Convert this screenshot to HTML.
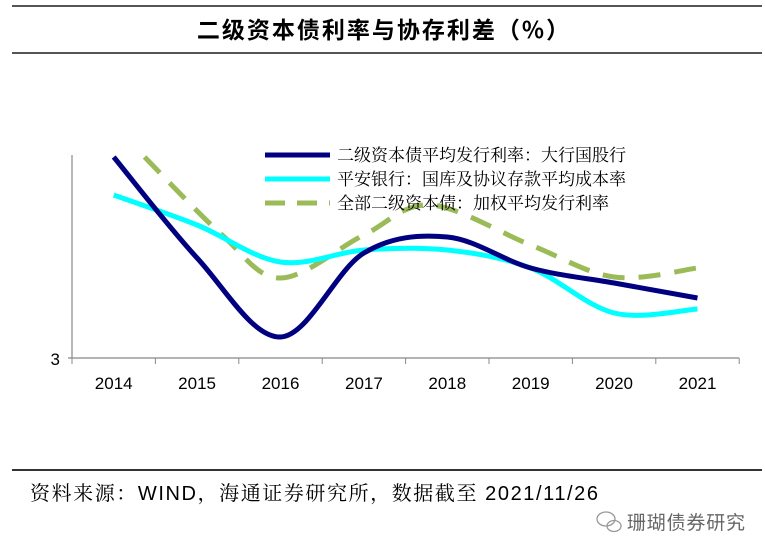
<!DOCTYPE html>
<html><head><meta charset="utf-8"><style>
body{margin:0;background:#fff;width:765px;height:554px;overflow:hidden;font-family:"Liberation Sans","Noto Serif CJK SC","Noto Sans CJK SC",serif;}
</style></head><body>
<svg width="765" height="554" viewBox="0 0 765 554" style="position:absolute;left:0;top:0">
<line x1="12" y1="6" x2="762" y2="6" stroke="#555" stroke-width="2"/>
<line x1="12" y1="53" x2="762" y2="53" stroke="#555" stroke-width="2"/>
<text x="384" y="38" text-anchor="middle" font-size="23" font-weight="bold" letter-spacing="2" font-family="'Noto Sans CJK SC',sans-serif">二级资本债利率与协存利差（%）</text>
<g id="plot"></g>
<line x1="12" y1="470" x2="762" y2="470" stroke="#333" stroke-width="2"/>
<text x="30" y="500" font-size="20" textLength="568" font-family="'Liberation Sans','Noto Serif CJK SC',serif">资料来源：WIND，海通证券研究所，数据截至 2021/11/26</text>
<g fill="none" stroke="#999" stroke-width="1.3">
<ellipse cx="606" cy="519" rx="9" ry="7"/><ellipse cx="614" cy="526" rx="7" ry="5.5"/>
</g>
<text x="627" y="529" font-size="19" fill="#666" textLength="118" font-family="'Noto Sans CJK SC',sans-serif">珊瑚债券研究</text>
</svg>
<script>
const categories=["2014","2015","2016","2017","2018","2019","2020","2021"];
const yTickLabels=["3"];
const majorBank=[7.02,5.0,3.42,5.1,5.42,4.8,4.5,4.2];
const pinganDeposit=[6.26,5.66,4.92,5.16,5.16,4.8,3.9,3.98];
const allTier2X=[0.37,1.3,2.0,3.0,3.8,5.0,6.0,7.0];
const allTier2=[7.02,5.46,4.6,5.46,6.06,5.26,4.62,4.8];
const legendLabels=["二级资本债平均发行利率：大行国股行","平安银行：国库及协议存款平均成本率","全部二级资本债：加权平均发行利率"];
const NS="http://www.w3.org/2000/svg";
const g=document.getElementById('plot');
const x0=72,step=83.4,base=358;
function xPos(i){return x0+step*(i+0.5);}
function yPos(v){return base-(v-3)*50;}
function mk(t,a){const e=document.createElementNS(NS,t);for(const k in a)e.setAttribute(k,a[k]);g.appendChild(e);return e;}
function path(pts){let d="M"+pts[0][0]+","+pts[0][1];for(let i=0;i<pts.length-1;i++){const p0=pts[i-1]||pts[i],p1=pts[i],p2=pts[i+1],p3=pts[i+2]||p2;const c1=[p1[0]+(p2[0]-p0[0])/6,p1[1]+(p2[1]-p0[1])/6],c2=[p2[0]-(p3[0]-p1[0])/6,p2[1]-(p3[1]-p1[1])/6];d+=" C"+c1+" "+c2+" "+p2;}return d;}
let ax=mk('line',{x1:x0,y1:155,x2:x0,y2:base,stroke:'#888','stroke-width':1.2});

let xa=mk('line',{x1:x0-4,y1:base,x2:x0+step*8,y2:base,stroke:'#888','stroke-width':1.2});

for(let i=0;i<=8;i++){let t=mk('line',{x1:x0+step*i,y1:base,x2:x0+step*i,y2:base+6,stroke:'#888'});}
categories.forEach((c,i)=>{let t=mk('text',{x:xPos(i),y:389,'text-anchor':'middle','font-size':17,'font-family':'Liberation Sans,sans-serif'});t.textContent=c;});
let yl=mk('text',{x:60,y:base+7,'text-anchor':'end','font-size':17,'font-family':'Liberation Sans,sans-serif'});yl.textContent=yTickLabels[0];

let s3=mk('path',{d:path(allTier2.map((v,i)=>[x0+step*(allTier2X[i]+0.5),yPos(v)])),fill:'none',stroke:'#9bbb59','stroke-width':5,'stroke-dasharray':'22,14'});

let s2=mk('path',{d:path(pinganDeposit.map((v,i)=>[xPos(i),yPos(v)])),fill:'none',stroke:'#00ffff','stroke-width':5});

let s1=mk('path',{d:path(majorBank.map((v,i)=>[xPos(i),yPos(v)])),fill:'none',stroke:'#000080','stroke-width':5});

const lc=['#000080','#00ffff','#9bbb59'];
legendLabels.forEach((l,i)=>{const y=155+i*24;
let ln=mk('line',{x1:265,y1:y,x2:330,y2:y,stroke:lc[i],'stroke-width':5});if(i==2)ln.setAttribute('stroke-dasharray','20,12');

let t=mk('text',{x:337,y:y+6,'font-size':17,'font-family':'Noto Serif CJK SC,serif'});t.textContent=l;
});
</script>
</body></html>
